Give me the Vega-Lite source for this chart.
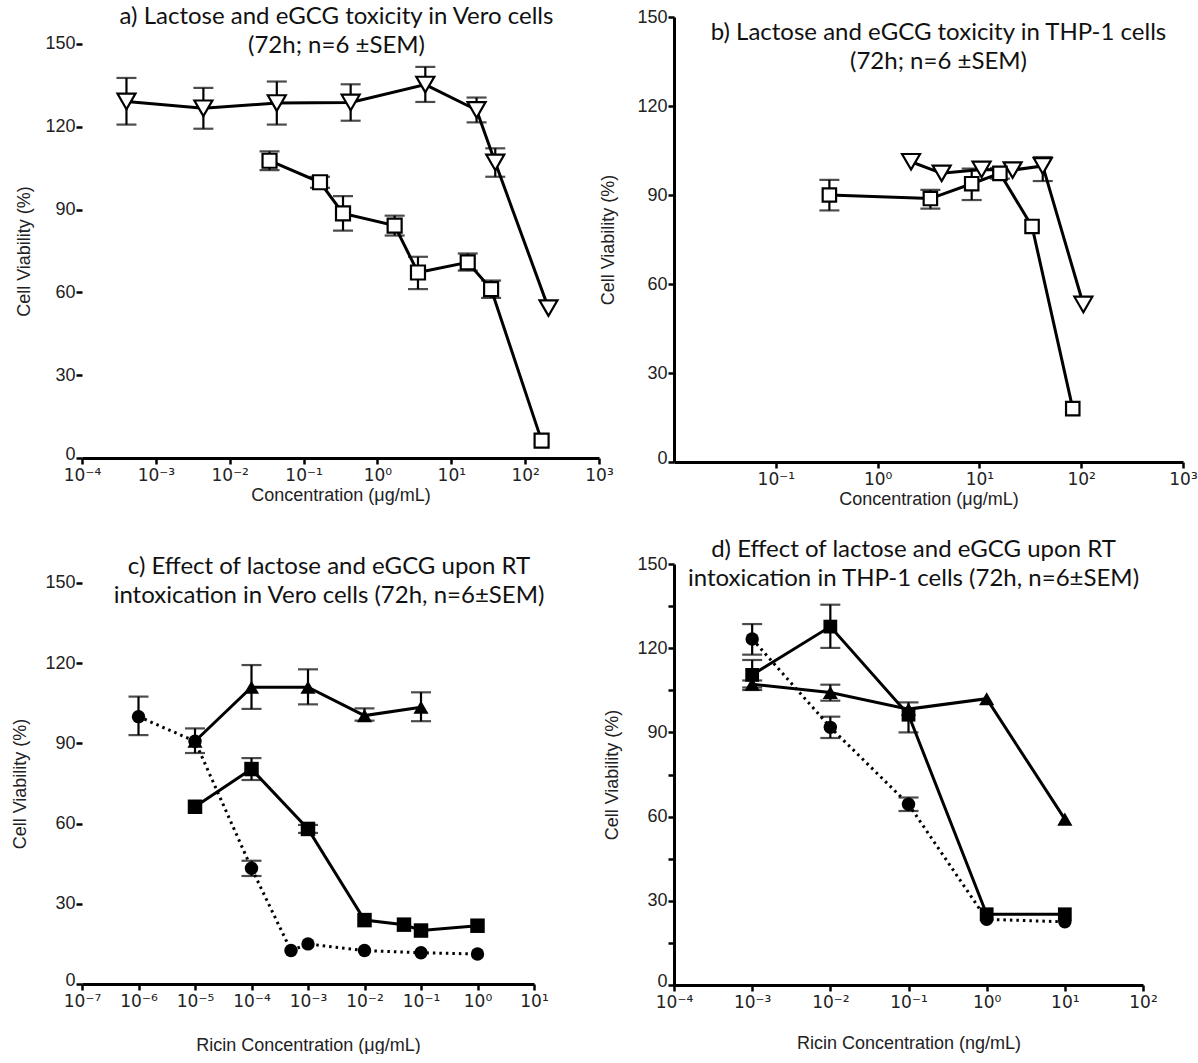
{
  "$schema": "https://vega.github.io/schema/vega-lite/v6.json",
  "background": "white",
  "padding": {"left": 11, "top": 5, "right": 0, "bottom": 0},
  "bounds": "flush",
  "columns": 2,
  "spacing": {"row": 102, "column": 75},
  "config": {
    "view": {"stroke": null},
    "axis": {
      "grid": false,
      "domainColor": "black",
      "domainWidth": 3,
      "tickColor": "black",
      "tickWidth": 2.5,
      "tickSize": 6,
      "labelFont": "Liberation Sans",
      "labelFontSize": 18,
      "labelColor": "#222222",
      "labelPadding": 1,
      "labelFlush": false,
      "labelOverlap": false,
      "titleFont": "Liberation Sans",
      "titleFontSize": 18,
      "titleFontWeight": "normal",
      "titleColor": "#222222"
    },
    "axisX": {
      "labelFont": "DejaVu Sans",
      "labelFontSize": 17,
      "labelPadding": 3
    },
    "title": {
      "font": "Lato",
      "fontSize": 24,
      "fontWeight": "normal",
      "color": "#111111",
      "anchor": "middle",
      "frame": "group",
      "baseline": "alphabetic",
      "lineHeight": 29
    }
  },
  "concat": [
    {
      "width": 517,
      "height": 441,
      "title": {"text": ["a) Lactose and eGCG toxicity in Vero cells", "(72h; n=6 ±SEM)"], "offset": -41, "dx": -4},
      "data": {"values": [
        {"s": "T", "c": 0.0004, "v": 129.2, "lo": 120.8, "hi": 137.7},
        {"s": "T", "c": 0.0044, "v": 126.7, "lo": 119.3, "hi": 134.1},
        {"s": "T", "c": 0.0434, "v": 128.6, "lo": 120.8, "hi": 136.4},
        {"s": "T", "c": 0.434, "v": 128.8, "lo": 122.2, "hi": 135.4},
        {"s": "T", "c": 4.45, "v": 135.3, "lo": 129.0, "hi": 141.7},
        {"s": "T", "c": 22.0, "v": 126.1, "lo": 121.6, "hi": 130.6},
        {"s": "T", "c": 39.4, "v": 107.1, "lo": 101.9, "hi": 112.2},
        {"s": "T", "c": 207, "v": 54.3},
        {"s": "S", "c": 0.0346, "v": 107.7, "lo": 104.3, "hi": 111.1},
        {"s": "S", "c": 0.167, "v": 99.9, "lo": 97.9, "hi": 101.9},
        {"s": "S", "c": 0.342, "v": 88.6, "lo": 82.4, "hi": 94.9},
        {"s": "S", "c": 1.71, "v": 84.2, "lo": 80.6, "hi": 87.8},
        {"s": "S", "c": 3.54, "v": 67.2, "lo": 61.2, "hi": 72.9},
        {"s": "S", "c": 16.7, "v": 70.9, "lo": 67.9, "hi": 74.1},
        {"s": "S", "c": 34.6, "v": 61.2, "lo": 58.0, "hi": 64.3},
        {"s": "S", "c": 167, "v": 6.3}
      ]},
      "encoding": {
        "x": {"field": "c", "type": "quantitative",
          "scale": {"type": "log", "domain": [0.0001, 1000], "nice": false},
          "axis": {"values": [0.0001, 0.001, 0.01, 0.1, 1, 10, 100, 1000],
            "labelExpr": "'10' + (datum.value < 1 ? '⁻' : '') + substring('⁰¹²³⁴⁵⁶⁷⁸⁹', abs(round(log(datum.value)/LN10)), abs(round(log(datum.value)/LN10)) + 1)",
            "title": "Concentration (μg/mL)", "titleY": 37, "titleBaseline": "middle"}},
        "y": {"field": "v", "type": "quantitative",
          "scale": {"domain": [0, 159.78], "nice": false, "zero": false},
          "axis": {"values": [0, 30, 60, 90, 120, 150], "domain": false,
            "labelOffset": {"condition": {"test": "datum.value === 0", "value": -4}, "value": 0},
            "title": "Cell Viability (%)", "titleX": -58, "titleY": 234, "titleBaseline": "middle"}}
      },
      "layer": [
        {"data": {"values": [{}]}, "mark": {"type": "rule", "strokeWidth": 3, "color": "black"},
         "encoding": {"x": {"datum": 0.0001}, "y": {"datum": 0}, "y2": {"datum": 150}}},
        {"transform": [{"filter": "isValid(datum.lo)"}],
         "mark": {"type": "errorbar", "ticks": {"size": 20, "thickness": 2.2, "color": "black"}, "rule": {"strokeWidth": 2.2, "color": "black"}},
         "encoding": {"y": {"field": "lo", "type": "quantitative"}, "y2": {"field": "hi"}}},
        {"mark": {"type": "line", "strokeWidth": 3, "color": "black"},
         "encoding": {"detail": {"field": "s"}}},
        {"transform": [{"filter": "datum.s === 'T'"}],
         "mark": {"type": "point", "shape": "triangle-down", "size": 324, "filled": true, "fill": "white", "stroke": "black", "strokeWidth": 2.2, "opacity": 1}},
        {"transform": [{"filter": "datum.s === 'S'"}],
         "mark": {"type": "point", "shape": "square", "size": 196, "filled": true, "fill": "white", "stroke": "black", "strokeWidth": 2.2, "opacity": 1}}
      ]
    },
    {
      "width": 509,
      "height": 445,
      "title": {"text": ["b) Lactose and eGCG toxicity in THP-1 cells", "(72h; n=6 ±SEM)"], "offset": -66, "dx": 10},
      "data": {"values": [
        {"s": "S", "c": 0.336, "v": 90.0, "lo": 84.8, "hi": 95.1},
        {"s": "S", "c": 3.30, "v": 88.8, "lo": 85.4, "hi": 91.7},
        {"s": "S", "c": 8.4, "v": 93.8, "lo": 88.3, "hi": 98.9},
        {"s": "S", "c": 15.9, "v": 97.3, "lo": 95.5, "hi": 99.1},
        {"s": "S", "c": 32.9, "v": 79.4},
        {"s": "S", "c": 82.6, "v": 18.0},
        {"s": "T", "c": 2.13, "v": 101.2},
        {"s": "T", "c": 4.26, "v": 97.3},
        {"s": "T", "c": 10.5, "v": 98.6},
        {"s": "T", "c": 21.2, "v": 98.4},
        {"s": "T", "c": 41.9, "v": 99.8, "lo": 94.7, "hi": 102.8},
        {"s": "T", "c": 105, "v": 53.1}
      ]},
      "encoding": {
        "x": {"field": "c", "type": "quantitative",
          "scale": {"type": "log", "domain": [0.01, 1000], "nice": false},
          "axis": {"values": [0.1, 1, 10, 100, 1000],
            "labelExpr": "'10' + (datum.value < 1 ? '⁻' : '') + substring('⁰¹²³⁴⁵⁶⁷⁸⁹', abs(round(log(datum.value)/LN10)), abs(round(log(datum.value)/LN10)) + 1)",
            "title": "Concentration (μg/mL)", "titleY": 37, "titleBaseline": "middle"}},
        "y": {"field": "v", "type": "quantitative",
          "scale": {"domain": [0, 150], "nice": false, "zero": false},
          "axis": {"values": [0, 30, 60, 90, 120, 150],
            "labelOffset": {"condition": {"test": "datum.value === 0", "value": -4}, "value": 0},
            "title": "Cell Viability (%)", "titleX": -66, "titleBaseline": "middle"}}
      },
      "layer": [
        {"transform": [{"filter": "isValid(datum.lo)"}],
         "mark": {"type": "errorbar", "ticks": {"size": 20, "thickness": 2.2, "color": "black"}, "rule": {"strokeWidth": 2.2, "color": "black"}},
         "encoding": {"y": {"field": "lo", "type": "quantitative"}, "y2": {"field": "hi"}}},
        {"mark": {"type": "line", "strokeWidth": 3, "color": "black"},
         "encoding": {"detail": {"field": "s"}}},
        {"transform": [{"filter": "datum.s === 'T'"}],
         "mark": {"type": "point", "shape": "triangle-down", "size": 324, "filled": true, "fill": "white", "stroke": "black", "strokeWidth": 2.2, "opacity": 1}},
        {"transform": [{"filter": "datum.s === 'S'"}],
         "mark": {"type": "point", "shape": "square", "size": 180, "filled": true, "fill": "white", "stroke": "black", "strokeWidth": 2.2, "opacity": 1}}
      ]
    },
    {
      "width": 452,
      "height": 420,
      "title": {"text": ["c) Effect of lactose and eGCG upon RT", "intoxication in Vero cells (72h, n=6±SEM)"], "offset": -44, "dx": 21},
      "data": {"values": [
        {"s": "C", "c": 0.000001, "v": 100.0, "lo": 93.1, "hi": 107.5},
        {"s": "C", "c": 0.00001, "v": 90.8, "lo": 86.4, "hi": 95.6},
        {"s": "C", "c": 0.0001, "v": 43.3, "lo": 40.4, "hi": 46.1},
        {"s": "C", "c": 0.0005, "v": 12.5},
        {"s": "C", "c": 0.001, "v": 15.0},
        {"s": "C", "c": 0.01, "v": 12.5},
        {"s": "C", "c": 0.1, "v": 11.7},
        {"s": "C", "c": 1, "v": 11.2},
        {"s": "S", "c": 0.00001, "v": 66.3},
        {"s": "S", "c": 0.0001, "v": 80.4, "lo": 76.3, "hi": 84.5},
        {"s": "S", "c": 0.001, "v": 58.0, "lo": 56.5, "hi": 59.5},
        {"s": "S", "c": 0.01, "v": 23.9},
        {"s": "S", "c": 0.05, "v": 22.2},
        {"s": "S", "c": 0.1, "v": 20.0},
        {"s": "S", "c": 1, "v": 21.8},
        {"s": "T", "c": 0.00001, "v": 90.8},
        {"s": "T", "c": 0.0001, "v": 111.0, "lo": 102.9, "hi": 119.3},
        {"s": "T", "c": 0.001, "v": 111.0, "lo": 104.6, "hi": 117.7},
        {"s": "T", "c": 0.01, "v": 100.4, "lo": 98.5, "hi": 103.1},
        {"s": "T", "c": 0.1, "v": 103.5, "lo": 98.3, "hi": 109.1}
      ]},
      "encoding": {
        "x": {"field": "c", "type": "quantitative",
          "scale": {"type": "log", "domain": [0.0000001, 10], "nice": false},
          "axis": {"values": [0.0000001, 0.000001, 0.00001, 0.0001, 0.001, 0.01, 0.1, 1, 10],
            "labelExpr": "'10' + (datum.value < 1 ? '⁻' : '') + substring('⁰¹²³⁴⁵⁶⁷⁸⁹', abs(round(log(datum.value)/LN10)), abs(round(log(datum.value)/LN10)) + 1)",
            "title": "Ricin Concentration (μg/mL)", "titleY": 61, "titleBaseline": "middle"}},
        "y": {"field": "v", "type": "quantitative",
          "scale": {"domain": [0, 157.1], "nice": false, "zero": false},
          "axis": {"values": [0, 30, 60, 90, 120, 150], "domain": false,
            "labelOffset": {"condition": {"test": "datum.value === 0", "value": -4}, "value": 0},
            "title": "Cell Viability (%)", "titleX": -62, "titleY": 219.5, "titleBaseline": "middle"}}
      },
      "layer": [
        {"data": {"values": [{}]}, "mark": {"type": "rule", "strokeWidth": 3, "color": "black"},
         "encoding": {"x": {"datum": 0.0000001}, "y": {"datum": 0}, "y2": {"datum": 150}}},
        {"transform": [{"filter": "isValid(datum.lo)"}],
         "mark": {"type": "errorbar", "ticks": {"size": 20, "thickness": 2.2, "color": "black"}, "rule": {"strokeWidth": 2.2, "color": "black"}},
         "encoding": {"y": {"field": "lo", "type": "quantitative"}, "y2": {"field": "hi"}}},
        {"transform": [{"filter": "datum.s !== 'C'"}],
         "mark": {"type": "line", "strokeWidth": 3, "color": "black"},
         "encoding": {"detail": {"field": "s"}}},
        {"transform": [{"filter": "datum.s === 'C'"}],
         "mark": {"type": "line", "strokeWidth": 3, "color": "black", "strokeDash": [2.5, 4]}},
        {"transform": [{"filter": "datum.s === 'C'"}],
         "mark": {"type": "point", "shape": "circle", "size": 180, "filled": true, "color": "black", "opacity": 1}},
        {"transform": [{"filter": "datum.s === 'S'"}],
         "mark": {"type": "point", "shape": "square", "size": 210, "filled": true, "color": "black", "opacity": 1}},
        {"transform": [{"filter": "datum.s === 'T'"}],
         "mark": {"type": "point", "shape": "triangle-up", "size": 230, "filled": true, "color": "black", "opacity": 1}}
      ]
    },
    {
      "width": 469,
      "height": 421,
      "title": {"text": ["d) Effect of lactose and eGCG upon RT", "intoxication in THP-1 cells (72h, n=6±SEM)"], "offset": -36, "dx": 5},
      "data": {"values": [
        {"s": "C", "c": 0.001, "v": 123.3, "lo": 117.7, "hi": 128.6},
        {"s": "C", "c": 0.01, "v": 91.8, "lo": 88.0, "hi": 95.6},
        {"s": "C", "c": 0.1, "v": 64.4, "lo": 62.0, "hi": 66.8},
        {"s": "C", "c": 1, "v": 23.4},
        {"s": "C", "c": 10, "v": 22.5},
        {"s": "S", "c": 0.001, "v": 110.5, "lo": 105.1, "hi": 115.8},
        {"s": "S", "c": 0.01, "v": 127.7, "lo": 120.1, "hi": 135.5},
        {"s": "S", "c": 0.1, "v": 96.3, "lo": 90.0, "hi": 100.7},
        {"s": "S", "c": 1, "v": 25.2},
        {"s": "S", "c": 10, "v": 25.2},
        {"s": "T", "c": 0.001, "v": 107.2, "lo": 106.0, "hi": 108.5},
        {"s": "T", "c": 0.01, "v": 104.2, "lo": 101.3, "hi": 107.0},
        {"s": "T", "c": 0.1, "v": 98.3},
        {"s": "T", "c": 1, "v": 102.0},
        {"s": "T", "c": 10, "v": 59.1}
      ]},
      "encoding": {
        "x": {"field": "c", "type": "quantitative",
          "scale": {"type": "log", "domain": [0.0001, 100], "nice": false},
          "axis": {"values": [0.0001, 0.001, 0.01, 0.1, 1, 10, 100],
            "labelExpr": "'10' + (datum.value < 1 ? '⁻' : '') + substring('⁰¹²³⁴⁵⁶⁷⁸⁹', abs(round(log(datum.value)/LN10)), abs(round(log(datum.value)/LN10)) + 1)",
            "title": "Ricin Concentration (ng/mL)", "titleY": 58, "titleBaseline": "middle"}},
        "y": {"field": "v", "type": "quantitative",
          "scale": {"domain": [0, 150], "nice": false, "zero": false},
          "axis": {"values": [0, 15, 30, 45, 60, 75, 90, 105, 120, 135, 150],
            "labelExpr": "datum.value % 30 === 0 ? datum.label : ''",
            "labelOffset": {"condition": {"test": "datum.value === 0", "value": -4}, "value": 0},
            "title": "Cell Viability (%)", "titleX": -62, "titleBaseline": "middle"}}
      },
      "layer": [
        {"transform": [{"filter": "isValid(datum.lo)"}],
         "mark": {"type": "errorbar", "ticks": {"size": 20, "thickness": 2.2, "color": "black"}, "rule": {"strokeWidth": 2.2, "color": "black"}},
         "encoding": {"y": {"field": "lo", "type": "quantitative"}, "y2": {"field": "hi"}}},
        {"transform": [{"filter": "datum.s !== 'C'"}],
         "mark": {"type": "line", "strokeWidth": 3, "color": "black"},
         "encoding": {"detail": {"field": "s"}}},
        {"transform": [{"filter": "datum.s === 'C'"}],
         "mark": {"type": "line", "strokeWidth": 3, "color": "black", "strokeDash": [2.5, 4]}},
        {"transform": [{"filter": "datum.s === 'C'"}],
         "mark": {"type": "point", "shape": "circle", "size": 180, "filled": true, "color": "black", "opacity": 1}},
        {"transform": [{"filter": "datum.s === 'S'"}],
         "mark": {"type": "point", "shape": "square", "size": 190, "filled": true, "color": "black", "opacity": 1}},
        {"transform": [{"filter": "datum.s === 'T'"}],
         "mark": {"type": "point", "shape": "triangle-up", "size": 230, "filled": true, "color": "black", "opacity": 1}}
      ]
    }
  ]
}
